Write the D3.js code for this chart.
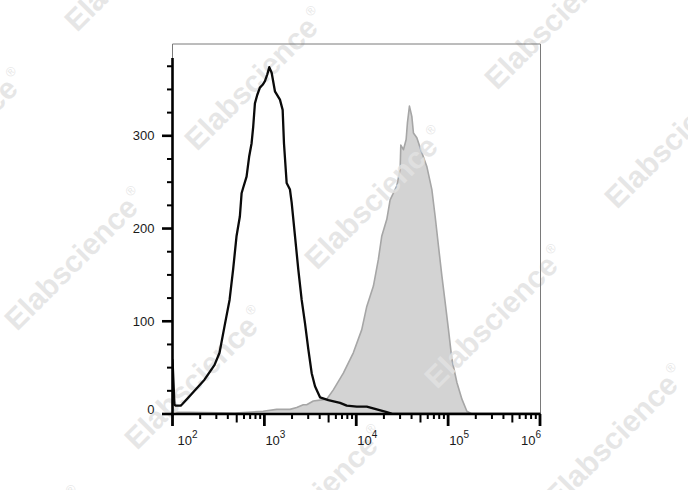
<!DOCTYPE html>
<html><head><meta charset="utf-8">
<script src="https://cdn.jsdelivr.net/npm/d3@7"></script>
<style>body{margin:0;background:#fff}svg{display:block}text{font-family:"Liberation Sans",Arial,sans-serif}</style>
</head><body><svg id="c" width="688" height="490"></svg>
<script>
// Isotype control (black outline)
const isoX = [100,105,109,123,129,166,223,287,325,369,418,457,498,541,565,588,640,684,726,756,789,836,894,957,1014,1074,1130,1200,1303,1477,1581,1634,1748,1899,1982,2153,2339,2547,2767,3007,3273,3557,4033,4967,6660,7879,10130,13020,16730,21500,25180,1000000];
const isoY = [59,10,9,9,11,23,37,53,66,95,123,156,192,213,238,244,256,278,292,310,335,344,352,355,359,366,374,368,348,339,328,292,249,242,228,192,156,123,98,70,44,30,18,15,12,9,8,8,5,2,0,0];
// Stained sample (grey filled)
const stX = [100,106,477,970,1360,1899,2247,2652,2887,3408,4033,4767,5629,7236,9290,11480,13020,15370,17420,18970,21500,23370,27640,30030,30550,32620,34910,36060,37930,40270,41930,45640,49610,58620,66530,72280,78520,85510,92910,100900,109900,124600,141300,160000,181500];
const stY = [8,2,1,3,5,5,7,10,10,14,15,16,26,44,66,91,116,138,167,192,210,231,246,264,290,285,296,314,332,321,303,298,287,267,242,213,181,149,120,91,59,34,16,3,0];
// Axis ticks
const yTickValues = [0,100,200,300];
const yMinorStep = 25;
const yAxisTop = 384;
const yMax = 399;
const xExponents = [2,3,4,5,6];
const watermarkText = "Elabscience";

const svg = d3.select("#c");
const P = {l:172.5, r:540.5, t:44, b:414};
const x = d3.scaleLog().domain([100,1e6]).range([P.l, 540]);
const y = d3.scaleLinear().domain([0,yMax]).range([P.b, P.t]);

svg.append("defs").append("clipPath").attr("id","clip")
  .append("rect").attr("x",P.l).attr("y",P.t).attr("width",P.r-P.l).attr("height",P.b-P.t);

const stained = stX.map((v,i)=>[v,stY[i]]);
const iso = isoX.map((v,i)=>[v,isoY[i]]);

// grey filled histogram
svg.append("path").datum(stained)
  .attr("clip-path","url(#clip)")
  .attr("d", d3.area().x(d=>x(d[0])).y0(y(0)).y1(d=>y(d[1])))
  .attr("fill","#d3d3d3").attr("stroke","#a6a6a6").attr("stroke-width",1.6).attr("stroke-linejoin","round");

// watermarks
const wm = svg.append("g");
const o = [197,152], a = [120,119], b = [180,-180];
for (let i=-3;i<=4;i++) for (let j=-2;j<=2;j++) {
  const px = o[0]+i*a[0]+j*b[0], py = o[1]+i*a[1]+j*b[1];
  if (px < -250 || px > 720 || py < -20 || py > 680) continue;
  const t = wm.append("text").attr("transform",`translate(${px},${py}) rotate(-45)`)
    .attr("font-size",30).attr("font-weight","bold").attr("fill","rgb(226,226,226)").attr("fill-opacity",0.85);
  t.append("tspan").text(watermarkText);
  t.append("tspan").attr("font-size",13).attr("font-weight","normal").attr("dx",2).attr("dy",-15).text("\u00AE");
}

// frame
svg.append("path").attr("d",`M${P.l},${P.b}V${P.t}H${P.r}V${P.b}`)
  .attr("fill","none").attr("stroke","#7a7a7a").attr("stroke-width",1);

// isotype black line
svg.append("path").datum(iso)
  .attr("clip-path","url(#clip)")
  .attr("d", d3.line().x(d=>x(d[0])).y(d=>y(d[1])))
  .attr("fill","none").attr("stroke","#0a0a0a").attr("stroke-width",2.3).attr("stroke-linejoin","round");

// Y axis
const ax = svg.append("g");
ax.append("line").attr("x1",P.l).attr("x2",P.l).attr("y1",y(0)+1.5).attr("y2",y(yAxisTop))
  .attr("stroke","#000").attr("stroke-width",2.6);
d3.range(0, yAxisTop, yMinorStep).forEach(v=>{
  const major = yTickValues.includes(v);
  ax.append("line").attr("x1",P.l-(major?10.5:5.5)).attr("x2",P.l).attr("y1",y(v)).attr("y2",y(v))
    .attr("stroke","#000").attr("stroke-width",major?2.6:2);
});
yTickValues.forEach(v=>{
  ax.append("text").attr("x",P.l-18).attr("y",y(v) - (v===0?5:0)).attr("dy","0.36em").attr("text-anchor","end")
    .attr("font-size",13).attr("fill","#1a1a1a").text(v);
});

// X axis
ax.append("line").attr("x1",P.l-1.3).attr("x2",P.r).attr("y1",P.b).attr("y2",P.b)
  .attr("stroke","#000").attr("stroke-width",2.6);
xExponents.forEach((e,k)=>{
  const ms = k===xExponents.length-1 ? [1] : d3.range(1,10);
  ms.forEach(m=>{
    const v = m*Math.pow(10,e), xx = x(v);
    const len = m===1?12:(m===5?8.5:5);
    ax.append("line").attr("x1",xx).attr("x2",xx).attr("y1",P.b).attr("y2",P.b+len)
      .attr("stroke","#000").attr("stroke-width",m===1?2.8:2);
  });
  const xt = x(Math.pow(10,e));
  const last = k===xExponents.length-1;
  const t = ax.append("text").attr("y",445).attr("font-size",13).attr("fill","#1a1a1a")
    .attr("x", last ? xt+1 : (k===0 ? xt+5 : xt+1))
    .attr("text-anchor", last ? "end" : "start");
  t.append("tspan").text("10");
  t.append("tspan").attr("font-size",10).attr("dy",-7).text(e);
});
</script>
</body></html>
